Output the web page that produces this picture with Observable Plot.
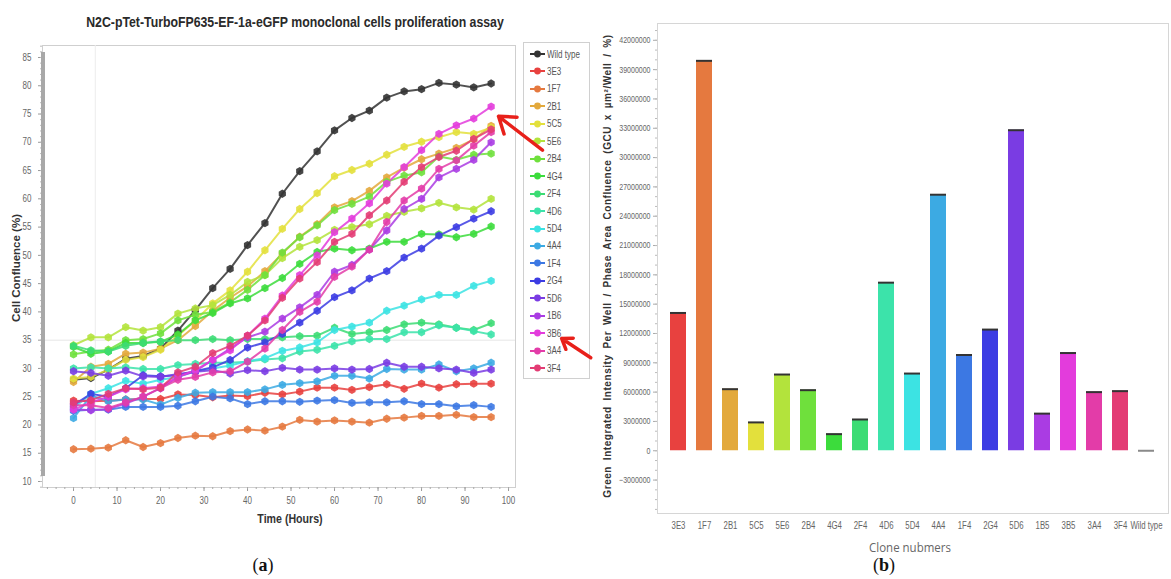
<!DOCTYPE html>
<html><head><meta charset="utf-8">
<script src="https://cdn.jsdelivr.net/npm/d3@7"></script>
<script src="https://cdn.jsdelivr.net/npm/@observablehq/plot@0.6"></script>
<style>
body{margin:0;background:#fff;}
#root{position:relative;width:1171px;height:579px;overflow:hidden;font-family:"Liberation Sans",Arial,sans-serif;}
.abs{position:absolute;white-space:nowrap;}
</style></head><body><div id="root"></div>
<script>
// ---------- Panel (a) data ----------
const times = [0,4,8,12,16,20,24,28,32,36,40,44,48,52,56,60,64,68,72,76,80,84,88,92,96];
const lineNames = ["Wild type","3E3","1F7","2B1","5C5","5E6","2B4","4G4","2F4","4D6","5D4","4A4","1F4","2G4","5D6","1B6","3B6","3A4","3F4"];
const lineColors = ["#333333","#e8413f","#e5793f","#e3a93c","#e3e03c","#b3e33c","#6fe03c","#3cdc3c","#3cdc74","#3ce3aa","#3ce3e3","#3caae3","#3c78e3","#3c3ce3","#7a3ce3","#aa3ce3","#e33cdc","#e33ca8","#e33c74"];
const sWT  = [28.0,28.3,29.8,31.7,32.2,33.5,36.7,40.3,44.2,47.6,51.8,55.7,60.9,64.9,68.4,72.1,74.3,75.6,77.9,79.0,79.4,80.5,80.2,79.7,80.4];
const s3E3 = [24.3,24.2,24.3,24.5,24.6,24.6,25.4,25.3,24.9,25.2,25.1,25.7,25.4,25.9,26.6,26.6,26.2,26.7,27.2,26.4,27.3,26.6,27.2,27.3,27.3];
const s1F7 = [15.7,15.8,16.0,17.3,16.1,16.8,17.7,18.1,18.0,18.9,19.2,19.0,19.7,20.9,20.6,20.8,20.6,20.4,21.1,21.3,21.6,21.6,21.8,21.4,21.4];
const s2B1 = [27.6,30.3,30.8,32.6,32.8,33.5,35.0,37.5,40.2,42.5,44.5,47.2,50.3,53.3,55.5,58.5,59.6,61.4,63.8,65.5,67.0,68.0,69.0,70.5,72.9];
const s5C5 = [28.2,28.5,29.8,31.5,32.0,33.3,35.8,38.5,41.5,43.8,47.1,50.9,54.7,58.2,61.0,64.0,65.1,66.2,67.8,69.2,70.1,70.9,71.8,71.5,72.6];
const s5E6 = [34.1,35.5,35.5,37.3,36.7,37.3,39.7,40.6,41.2,43.0,45.3,46.5,49.5,51.5,52.7,54.5,55.0,55.5,57.0,57.7,58.3,59.3,58.5,58.1,60.0];
const s2B4 = [32.5,33.0,33.3,35.0,35.2,36.2,38.5,39.5,40.0,41.7,43.9,46.5,50.5,53.2,55.3,58.0,59.1,60.4,63.0,64.1,64.7,67.5,66.9,67.8,68.0];
const s4G4 = [33.8,32.6,33.0,34.5,34.5,34.7,36.0,38.5,39.8,41.5,42.4,44.2,46.0,48.5,50.6,51.2,50.9,51.2,52.4,52.4,53.8,53.7,53.2,53.8,55.1];
const s2F4 = [34.0,33.2,33.0,34.0,34.5,34.8,35.0,35.0,35.2,35.0,35.2,35.2,35.5,35.7,35.8,37.2,36.1,36.4,36.8,37.8,38.1,37.8,37.2,36.8,38.0];
const s4D6 = [30.0,30.2,30.0,30.2,29.9,29.9,30.6,30.8,31.0,31.0,31.2,31.6,31.8,33.0,33.3,34.0,34.8,35.2,35.2,36.4,36.4,37.6,37.2,36.6,36.0];
const s5D4 = [23.0,25.5,26.5,27.8,27.3,28.0,28.5,29.5,30.0,30.5,31.3,31.8,33.1,33.7,34.6,36.8,37.4,38.1,40.2,41.1,42.2,43.0,43.0,44.6,45.5];
const s4A4 = [21.2,25.2,24.2,24.5,24.5,23.6,24.8,25.7,25.8,25.8,25.8,26.3,27.1,27.4,27.7,28.7,28.7,28.2,29.9,29.8,29.8,30.7,29.5,30.0,31.0];
const s1F4 = [22.5,22.7,22.7,23.2,23.2,23.2,23.4,24.2,25.0,24.7,23.7,24.2,24.2,24.1,24.3,24.4,23.9,24.0,24.0,24.2,23.7,23.7,23.3,23.5,23.2];
const s2G4 = [23.5,25.5,25.0,26.5,28.8,28.6,28.8,29.5,30.2,31.5,33.7,34.6,36.1,38.1,40.2,42.6,43.8,45.9,47.2,49.6,51.2,53.5,55.0,56.5,57.8];
const s5D6 = [29.5,29.2,28.7,29.6,28.6,28.5,29.0,29.4,29.7,29.1,29.7,29.5,30.1,29.8,29.8,30.0,29.8,29.9,31.0,30.3,30.3,30.0,29.8,29.2,29.8];
const s1B6 = [22.8,22.6,22.8,23.8,25.0,26.5,28.5,29.5,31.5,33.5,35.5,36.5,38.8,40.8,43.0,47.1,48.3,51.0,54.4,58.2,60.0,63.8,65.3,66.9,70.0];
const s3B6 = [22.7,24.0,25.0,26.3,26.5,26.8,28.5,29.7,31.5,33.2,35.8,38.8,42.9,46.5,50.0,54.1,56.5,59.2,62.7,65.6,68.6,71.5,73.0,74.2,76.3];
const s3A4 = [23.5,23.5,23.0,24.0,25.0,26.5,28.0,28.5,29.3,29.5,31.2,33.5,36.8,40.0,41.8,46.2,48.0,51.0,55.9,59.7,61.8,65.3,66.8,69.4,71.8];
const s3F4 = [24.0,24.4,25.5,26.5,26.3,26.6,29.3,30.3,32.7,34.0,35.8,38.5,42.5,45.9,48.8,52.4,53.8,57.1,59.7,63.0,65.6,67.4,68.5,70.6,72.3];
const lineSeries = [sWT,s3E3,s1F7,s2B1,s5C5,s5E6,s2B4,s4G4,s2F4,s4D6,s5D4,s4A4,s1F4,s2G4,s5D6,s1B6,s3B6,s3A4,s3F4];
const xTicksA = [0,10,20,30,40,50,60,70,80,90,100];
const yTicksA = [10,15,20,25,30,35,40,45,50,55,60,65,70,75,80,85];
// annotation arrows (data coordinates: hours, %)
const arrowTailX = [107.8, 118.9];
const arrowTailY = [68.6, 31.9];
const arrowHeadX = [97.7, 112.2];
const arrowHeadY = [74.6, 35.3];

// ---------- Panel (b) data ----------
const clones = ["3E3","1F7","2B1","5C5","5E6","2B4","4G4","2F4","4D6","5D4","4A4","1F4","2G4","5D6","1B5","3B5","3A4","3F4","Wild type"];
const greenValues = [14100000,39900000,6300000,2900000,7800000,6200000,1700000,3200000,17200000,7900000,26200000,9800000,12400000,32800000,3800000,10000000,6000000,6100000,0];
const barColors = ["#e8413f","#e5793f","#e3a93c","#e3e03c","#b3e33c","#6fe03c","#3cdc3c","#3cdc74","#3ce3aa","#3ce3e3","#3caae3","#3c78e3","#3c3ce3","#7a3ce3","#aa3ce3","#e33cdc","#e33ca8","#e33c74","#9a9a9a"];
const yTicksB = [-3000000,0,3000000,6000000,9000000,12000000,15000000,18000000,21000000,24000000,27000000,30000000,33000000,36000000,39000000,42000000];

const root = document.getElementById("root");
const FONT = '"Liberation Sans",Arial,sans-serif';
function addText(txt, x, y, transform, style){
  const d = document.createElement("div");
  d.className = "abs";
  d.textContent = txt;
  d.style.left = x + "px"; d.style.top = y + "px";
  d.style.transform = transform;
  Object.assign(d.style, style||{});
  root.appendChild(d);
  return d;
}
// narrow the tick label glyphs (the original uses a condensed face)
function squeeze(svg, k){
  svg.querySelectorAll('g[aria-label$="tick label"] text').forEach(t=>{
    const w = t.getComputedTextLength();
    if (w > 0){ t.setAttribute("textLength", w*k); t.setAttribute("lengthAdjust","spacingAndGlyphs"); }
  });
}

// ----- Legend box for panel (a) (under the SVG so arrows draw on top) -----
const leg = document.createElement("div");
leg.className = "abs";
Object.assign(leg.style,{left:"523px",top:"42px",width:"65px",height:"335px",border:"1px solid #d0d0d0",background:"#fff"});
root.appendChild(leg);
lineNames.forEach((n,i)=>{
  const row = document.createElement("div");
  row.className = "abs";
  Object.assign(row.style,{left:"5px",top:(4+i*17.45)+"px",height:"14px",display:"flex",alignItems:"center",fontSize:"10px",color:"#555",fontFamily:FONT});
  row.innerHTML = `<svg width="17" height="10" style="margin-right:1px"><line x1="1" y1="5" x2="16" y2="5" stroke="${lineColors[i]}" stroke-width="2"/><circle cx="8.5" cy="5" r="3.4" fill="${lineColors[i]}"/></svg><span style="display:inline-block;transform:scaleX(0.8);transform-origin:left center">${n}</span>`;
  leg.appendChild(row);
});

// ----- Panel (a) chart -----
const rows = [];
lineNames.forEach((n,i)=> lineSeries[i].forEach((v,j)=> rows.push({series:n, t:times[j], v})));
const arrows = arrowTailX.map((x,i)=>({x1:x, y1:arrowTailY[i], x2:arrowHeadX[i], y2:arrowHeadY[i]}));

const plotA = Plot.plot({
  width: 600, height: 540,
  marginLeft: 42, marginRight: 85, marginTop: 45, marginBottom: 53,
  style: {background:"transparent", fontFamily: FONT, fontSize:"10px", color:"#666", overflow:"visible"},
  x: {domain:[-7.13,101.6], label:null},
  y: {domain:[8.94,87.12], label:null},
  color: {domain: lineNames, range: lineColors},
  marks: [
    Plot.frame({stroke:"#cfcfcf"}),
    Plot.ruleX([5], {stroke:"#ececec"}),
    Plot.ruleY([35], {stroke:"#e6e6e6"}),
    Plot.axisX({ticks: xTicksA, tickSize: 4, tickPadding: 5, stroke:"#999"}),
    Plot.axisX({ticks: d3.range(-6,102,2), tickSize: 2, text: null, stroke:"#aaa"}),
    Plot.axisY({ticks: yTicksA, tickSize: 4, tickPadding: 7, stroke:"#999"}),
    Plot.axisY({ticks: d3.range(9,88,1), tickSize: 2, text: null, stroke:"#bbb"}),
    Plot.line(rows, {x:"t", y:"v", z:"series", stroke:"series", strokeWidth:2, strokeOpacity:0.85}),
    Plot.dot(rows, {x:"t", y:"v", fill:"series", r:3.6, symbol:"hexagon", fillOpacity:0.9}),
    Plot.arrow(arrows, {x1:"x1", y1:"y1", x2:"x2", y2:"y2", stroke:"#e8201a", strokeWidth:3.5, headLength:13, headAngle:70})
  ]
});
plotA.style.position = "absolute"; plotA.style.left = "0px"; plotA.style.top = "0px";
root.appendChild(plotA);
squeeze(plotA, 0.8);

// scrollbar decoration on panel (a)'s y axis
const sb = document.createElement("div");
sb.className = "abs";
Object.assign(sb.style,{left:"41px",top:"52px",width:"4px",height:"424px",background:"#a8a8a8"});
root.appendChild(sb);

addText("N2C-pTet-TurboFP635-EF-1a-eGFP monoclonal cells proliferation assay", 295, 21, "translate(-50%,-50%) scaleX(0.82)", {fontSize:"15px", fontWeight:"bold", color:"#2a2a2a"});
addText("Cell Confluence (%)", 16, 268, "translate(-50%,-50%) rotate(-90deg)", {fontSize:"11.5px", fontWeight:"bold", color:"#333"});
addText("Time (Hours)", 290, 519, "translate(-50%,-50%) scaleX(0.85)", {fontSize:"12.5px", fontWeight:"bold", color:"#333"});

// ----- Panel (b) chart -----
const bars = clones.map((c,i)=>({clone:c, value:greenValues[i]}));
const plotB = Plot.plot({
  width: 581, height: 540,
  marginLeft: 67, marginRight: 3, marginTop: 23, marginBottom: 27,
  style: {background:"transparent", fontFamily: FONT, fontSize:"9px", color:"#666", overflow:"visible"},
  x: {domain: clones, label:null, paddingInner:0.37, paddingOuter:0.16},
  y: {domain:[-6420000, 43720000], label:null},
  color: {domain: clones, range: barColors},
  marks: [
    Plot.frame({stroke:"#d6d6d6"}),
    Plot.axisX({tickSize: 0, tickPadding: 8, fontSize: 10}),
    Plot.axisY({ticks: yTicksB, tickFormat: d3.format("d"), tickSize: 4, tickPadding: 3, stroke:"#aaa"}),
    Plot.axisY({ticks: d3.range(-6000000, 43000001, 1000000), tickSize: 2, text:null, stroke:"#bbb"}),
    Plot.barY(bars, {x:"clone", y:"value", fill:"clone"}),
    Plot.tickY(bars, {x:"clone", y:"value", stroke: d => d.clone === "Wild type" ? "#8a8a8a" : "#333", strokeWidth: 2})
  ]
});
plotB.style.position = "absolute"; plotB.style.left = "590px"; plotB.style.top = "0px";
root.appendChild(plotB);
squeeze(plotB, 0.78);

addText("Green Integrated Intensity Per Well / Phase Area Confluence (GCU x µm²/Well / %)", 607, 266, "translate(-50%,-50%) rotate(-90deg)", {fontSize:"10px", fontWeight:"bold", color:"#333", letterSpacing:"0.55px", wordSpacing:"2.5px"});
addText("Clone nubmers", 910, 547, "translate(-50%,-50%) scaleX(0.85)", {fontSize:"13.5px", color:"#666", fontFamily:'"Open Sans","DejaVu Sans",sans-serif'});

// panel letters
const la = addText("", 263, 565, "translate(-50%,-50%)", {fontSize:"18px", color:"#111", fontFamily:'"Liberation Serif",serif'});
la.innerHTML = "(<b>a</b>)";
const lb = addText("", 884, 565, "translate(-50%,-50%)", {fontSize:"18px", color:"#111", fontFamily:'"Liberation Serif",serif'});
lb.innerHTML = "(<b>b</b>)";
</script></body></html>
